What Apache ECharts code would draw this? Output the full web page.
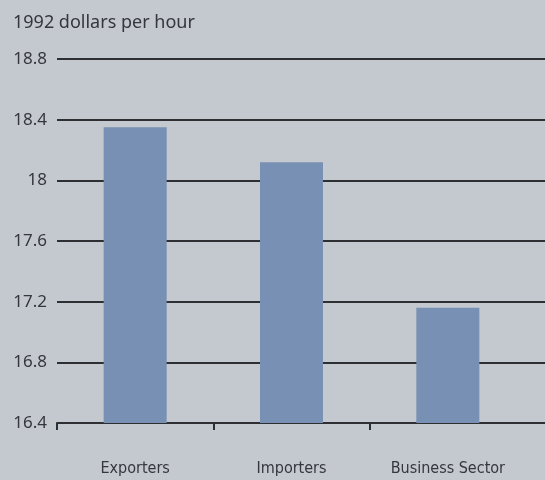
<!DOCTYPE html>
<html>
<head>
<meta charset="utf-8">
<script src="https://cdn.jsdelivr.net/npm/echarts@6/dist/echarts.min.js"></script>
<style>
  html, body { margin: 0; padding: 0; background: #c4c8cf; }
  #chart { width: 545px; height: 480px; }
</style>
</head>
<body>
<div id="chart"></div>
<script>
const categories = ['Exporters', 'Importers', 'Business Sector'];
const wages = [18.35, 18.12, 17.16];
const yTicks = [16.4, 16.8, 17.2, 17.6, 18, 18.4, 18.8];

const chart = echarts.init(document.getElementById('chart'));

const labelFont = '"Noto Sans", "DejaVu Sans", sans-serif';
const ink = '#34373c';
const axisInk = '#2e2f32';

const options = {
  backgroundColor: '#c4c8cf',
  title: {
    text: '1992 dollars per hour',
    left: 8, top: 9,
    textStyle: { fontSize: 18, fontWeight: 'normal', color: ink, fontFamily: labelFont }
  },
  grid: [
    // background grid: gridlines run to the page edge
    { left: 57, right: 0, top: 59, bottom: 57 },
    // bars
    { left: 57, right: 19, top: 59, bottom: 57 }
  ],
  xAxis: [
    {
      gridIndex: 0, type: 'category', data: categories,
      axisLine: { show: true, lineStyle: { color: axisInk, width: 2 } },
      axisTick: { show: false }, axisLabel: { show: false }
    },
    {
      gridIndex: 1, type: 'category', data: categories,
      axisLine: { show: false },
      axisTick: { show: false },
      axisLabel: {
        interval: 0, margin: 38, fontSize: 16, color: ink,
        fontFamily: '"Liberation Sans Narrow", "DejaVu Sans Condensed", sans-serif'
      }
    },
    {
      // band boundaries only, no tick at the far right end
      gridIndex: 1, type: 'value', min: 0, max: categories.length, interval: 1,
      position: 'bottom',
      axisLine: { show: false },
      axisLabel: { show: false },
      splitLine: { show: false },
      axisTick: {
        show: true, length: 7, lineStyle: { color: axisInk, width: 2 },
        customValues: categories.map((c, i) => i)
      }
    }
  ],
  yAxis: [
    {
      gridIndex: 0, type: 'value', min: yTicks[0], max: yTicks[yTicks.length - 1], interval: 0.4,
      axisLine: { show: false }, axisTick: { show: false },
      splitLine: { show: true, lineStyle: { color: axisInk, width: 2 } },
      axisLabel: {
        margin: 10, fontSize: 17, color: ink, fontFamily: labelFont,
        formatter: v => String(+v.toFixed(1))
      }
    },
    {
      gridIndex: 1, type: 'value', min: yTicks[0], max: yTicks[yTicks.length - 1], interval: 0.4,
      show: false, splitLine: { show: false }
    }
  ],
  series: [
    {
      type: 'bar',
      xAxisIndex: 1, yAxisIndex: 1,
      data: wages,
      barWidth: 63,
      itemStyle: { color: '#7790b3' },
      silent: true
    }
  ],
  animation: false
};

chart.setOption(options);
</script>
</body>
</html>
